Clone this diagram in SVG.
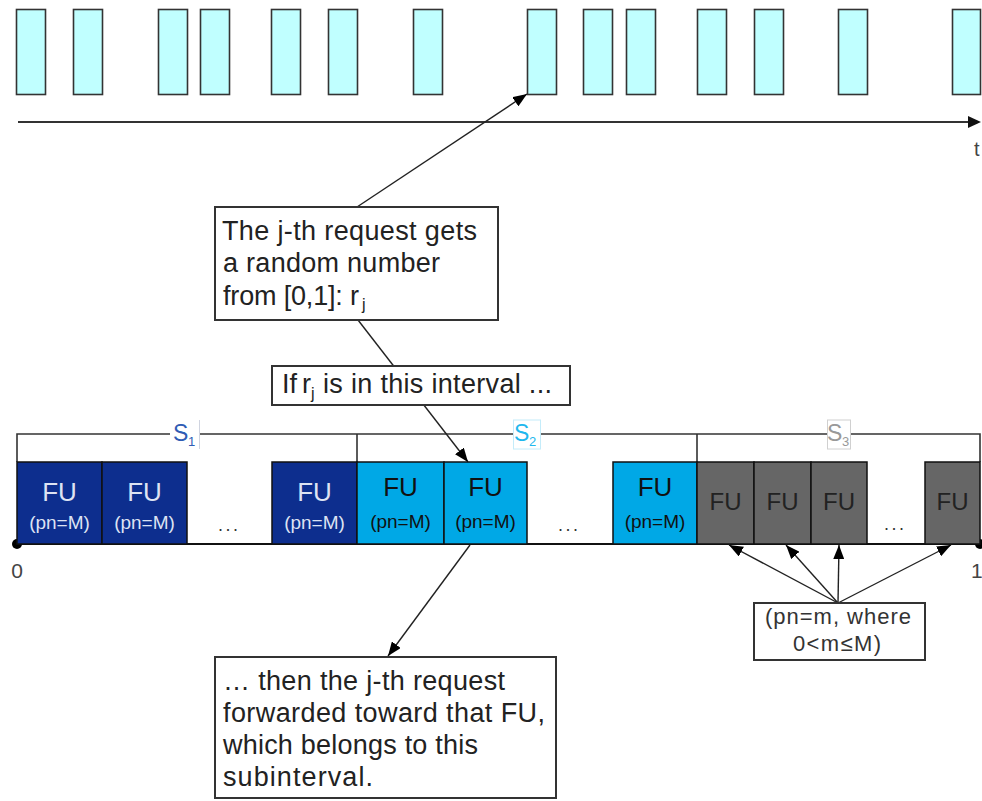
<svg xmlns="http://www.w3.org/2000/svg" width="982" height="801" viewBox="0 0 982 801">
  <defs>
    <marker id="head" viewBox="0 0 14 11" refX="14" refY="5.5" markerWidth="14" markerHeight="11" markerUnits="userSpaceOnUse" orient="auto">
      <path d="M0,0 L14,5.5 L0,11 z" fill="#000"/>
    </marker>
  </defs>
  <style>
    text { font-family: "Liberation Sans", Arial, sans-serif; }
    .req { fill: #c0ffff; stroke: #333; stroke-width: 1.6; }
    .axis { stroke: #333; stroke-width: 2; fill: none; }
    .note { fill: #fff; stroke: #333; stroke-width: 2; }
    .ntxt { font-size: 27px; fill: #222; }
    .sub { font-size: 16px; fill: #222; }
    .fu1 { fill: #0d2e8e; stroke: #111; stroke-width: 1.5; }
    .fu2 { fill: #00a8e6; stroke: #111; stroke-width: 1.5; }
    .fu3 { fill: #666; stroke: #111; stroke-width: 1.5; }
    .t1 { fill: #dde3f3; text-anchor: middle; }
    .t2 { fill: #111; text-anchor: middle; }
    .t3 { fill: #222; text-anchor: middle; }
    .big { font-size: 26px; }
    .small { font-size: 19px; }
    .dots { font-size: 18px; fill: #333; text-anchor: middle; }
    .conn { stroke: #222; stroke-width: 1.4; fill: none; marker-end: url(#head); }
    .frame { stroke: #333; stroke-width: 1.6; fill: none; }
  </style>

  <!-- incoming requests on the time axis -->
  <g id="requests">
    <g id="req-1"><rect class="req" x="16.5" y="9.5" width="29" height="85"/></g>
    <g id="req-2"><rect class="req" x="73.5" y="9.5" width="29" height="85"/></g>
    <g id="req-3"><rect class="req" x="158.5" y="9.5" width="29" height="85"/></g>
    <g id="req-4"><rect class="req" x="200.5" y="9.5" width="29" height="85"/></g>
    <g id="req-5"><rect class="req" x="271.5" y="9.5" width="29" height="85"/></g>
    <g id="req-6"><rect class="req" x="328.5" y="9.5" width="29" height="85"/></g>
    <g id="req-7"><rect class="req" x="413.5" y="9.5" width="29" height="85"/></g>
    <g id="req-8"><rect class="req" x="527.5" y="9.5" width="29" height="85"/></g>
    <g id="req-9"><rect class="req" x="583.5" y="9.5" width="29" height="85"/></g>
    <g id="req-10"><rect class="req" x="626.5" y="9.5" width="29" height="85"/></g>
    <g id="req-11"><rect class="req" x="697.5" y="9.5" width="29" height="85"/></g>
    <g id="req-12"><rect class="req" x="754.5" y="9.5" width="29" height="85"/></g>
    <g id="req-13"><rect class="req" x="838.5" y="9.5" width="29" height="85"/></g>
    <g id="req-14"><rect class="req" x="952.5" y="9.5" width="28" height="85"/></g>
  </g>

  <!-- time axis -->
  <g id="time-axis">
    <line class="axis" x1="18" y1="122" x2="968" y2="122"/>
    <path d="M968,116 L981,122 L968,128 z" fill="#111"/>
    <text x="974" y="156" font-size="20" fill="#444">t</text>
  </g>

  <!-- the [0,1] interval and its subintervals -->
  <g id="interval">
    <path class="frame" d="M17,462 V434 H980 V462 M357,434 V462 M697,434 V462"/>
    <line x1="17" y1="544" x2="980" y2="544" stroke="#111" stroke-width="2"/>
    <circle cx="17" cy="544" r="5" fill="#000"/>
    <circle cx="980" cy="544" r="5" fill="#000"/>
    <text x="17" y="578" font-size="21" fill="#444" text-anchor="middle">0</text>
    <text x="971" y="578" font-size="21" fill="#444">1</text>
  </g>

  <g id="label-s1">
    <rect x="170" y="420" width="29" height="29" fill="#fff"/>
    <line x1="199.5" y1="420" x2="199.5" y2="449" stroke="#d0d4e0" stroke-width="1"/>
    <text x="173" y="441" font-size="23" fill="#2f5cb4">S</text>
    <text x="188" y="446" font-size="13" fill="#2f5cb4">1</text>
  </g>
  <g id="label-s2">
    <rect x="513.5" y="420" width="27" height="29" fill="#fff" stroke="#c4ecfa" stroke-width="1"/>
    <text x="514" y="441" font-size="23" fill="#1fb8ee">S</text>
    <text x="529" y="446" font-size="13" fill="#1fb8ee">2</text>
  </g>
  <g id="label-s3">
    <rect x="827.5" y="420" width="23" height="29" fill="#fff" stroke="#d0d0d0" stroke-width="1"/>
    <text x="827" y="441" font-size="23" fill="#999">S</text>
    <text x="842" y="446" font-size="13" fill="#999">3</text>
  </g>

  <!-- subinterval S1 -->
  <g id="fu-s1-1">
    <rect class="fu1" x="17" y="462" width="85" height="82"/>
    <text class="t1 big" x="59.5" y="501">FU</text>
    <text class="t1 small" x="59.5" y="529">(pn=M)</text>
  </g>
  <g id="fu-s1-2">
    <rect class="fu1" x="102" y="462" width="85" height="82"/>
    <text class="t1 big" x="144.5" y="501">FU</text>
    <text class="t1 small" x="144.5" y="529">(pn=M)</text>
  </g>
  <g id="gap-s1"><text class="dots" x="228" y="531" textLength="20">...</text></g>
  <g id="fu-s1-n">
    <rect class="fu1" x="272" y="462" width="85" height="82"/>
    <text class="t1 big" x="314.5" y="501">FU</text>
    <text class="t1 small" x="314.5" y="529">(pn=M)</text>
  </g>

  <!-- subinterval S2 -->
  <g id="fu-s2-1">
    <rect class="fu2" x="357" y="462" width="87" height="82"/>
    <text class="t2 big" x="400.5" y="496">FU</text>
    <text class="t2 small" x="400.5" y="528">(pn=M)</text>
  </g>
  <g id="fu-s2-2">
    <rect class="fu2" x="444" y="462" width="83" height="82"/>
    <text class="t2 big" x="485.5" y="496">FU</text>
    <text class="t2 small" x="485.5" y="528">(pn=M)</text>
  </g>
  <g id="gap-s2"><text class="dots" x="568" y="531" textLength="20">...</text></g>
  <g id="fu-s2-n">
    <rect class="fu2" x="613" y="462" width="84" height="82"/>
    <text class="t2 big" x="655" y="496">FU</text>
    <text class="t2 small" x="655" y="528">(pn=M)</text>
  </g>

  <!-- subinterval S3 -->
  <g id="fu-s3-1">
    <rect class="fu3" x="697" y="462" width="57" height="82"/>
    <text class="t3" x="725.5" y="510" font-size="24">FU</text>
  </g>
  <g id="fu-s3-2">
    <rect class="fu3" x="754" y="462" width="57" height="82"/>
    <text class="t3" x="782.5" y="510" font-size="24">FU</text>
  </g>
  <g id="fu-s3-3">
    <rect class="fu3" x="811" y="462" width="56" height="82"/>
    <text class="t3" x="839" y="510" font-size="24">FU</text>
  </g>
  <g id="gap-s3"><text class="dots" x="894" y="530" textLength="20">...</text></g>
  <g id="fu-s3-n">
    <rect class="fu3" x="925" y="462" width="55" height="82"/>
    <text class="t3" x="952.5" y="510" font-size="24">FU</text>
  </g>

  <!-- connectors -->
  <g id="connectors">
    <line class="conn" x1="357" y1="207" x2="527" y2="94"/>
    <line class="conn" x1="358" y1="320" x2="468" y2="462"/>
    <line class="conn" x1="470" y1="545" x2="388" y2="656"/>
    <line class="conn" x1="838" y1="603" x2="729" y2="545"/>
    <line class="conn" x1="838" y1="603" x2="786" y2="545"/>
    <line class="conn" x1="838" y1="603" x2="839" y2="545"/>
    <line class="conn" x1="838" y1="603" x2="951" y2="545"/>
  </g>

  <!-- explanatory notes -->
  <g id="note-random">
    <rect class="note" x="215" y="207" width="283" height="113"/>
    <text class="ntxt" x="222" y="240" textLength="255" lengthAdjust="spacing">The j-th request gets</text>
    <text class="ntxt" x="223" y="272" textLength="217" lengthAdjust="spacing">a random number</text>
    <text class="ntxt" x="223" y="305" textLength="136" lengthAdjust="spacing">from [0,1]: r</text>
    <text class="sub" x="362" y="310">j</text>
  </g>

  <g id="note-interval">
    <rect class="note" x="272" y="366" width="298" height="39"/>
    <text class="ntxt" x="282" y="393">If</text>
    <text class="ntxt" x="302" y="393">r</text>
    <text class="sub" x="311" y="399">j</text>
    <text class="ntxt" x="323" y="393" textLength="229" lengthAdjust="spacing">is in this interval ...</text>
  </g>

  <g id="note-forward">
    <rect class="note" x="215" y="657" width="341" height="141"/>
    <text class="ntxt" x="223" y="690" textLength="282" lengthAdjust="spacing">… then the j-th request</text>
    <text class="ntxt" x="223" y="722" textLength="322" lengthAdjust="spacing">forwarded toward that FU,</text>
    <text class="ntxt" x="223" y="754" textLength="255" lengthAdjust="spacing">which belongs to this</text>
    <text class="ntxt" x="223" y="786" textLength="150" lengthAdjust="spacing">subinterval.</text>
  </g>

  <g id="note-priority">
    <rect class="note" x="754" y="603" width="171" height="57"/>
    <text x="838" y="624" font-size="22" fill="#333" text-anchor="middle" textLength="146" lengthAdjust="spacing">(pn=m, where</text>
    <text x="837" y="651" font-size="22" fill="#333" text-anchor="middle" textLength="88" lengthAdjust="spacing">0&lt;m≤M)</text>
  </g>
</svg>
